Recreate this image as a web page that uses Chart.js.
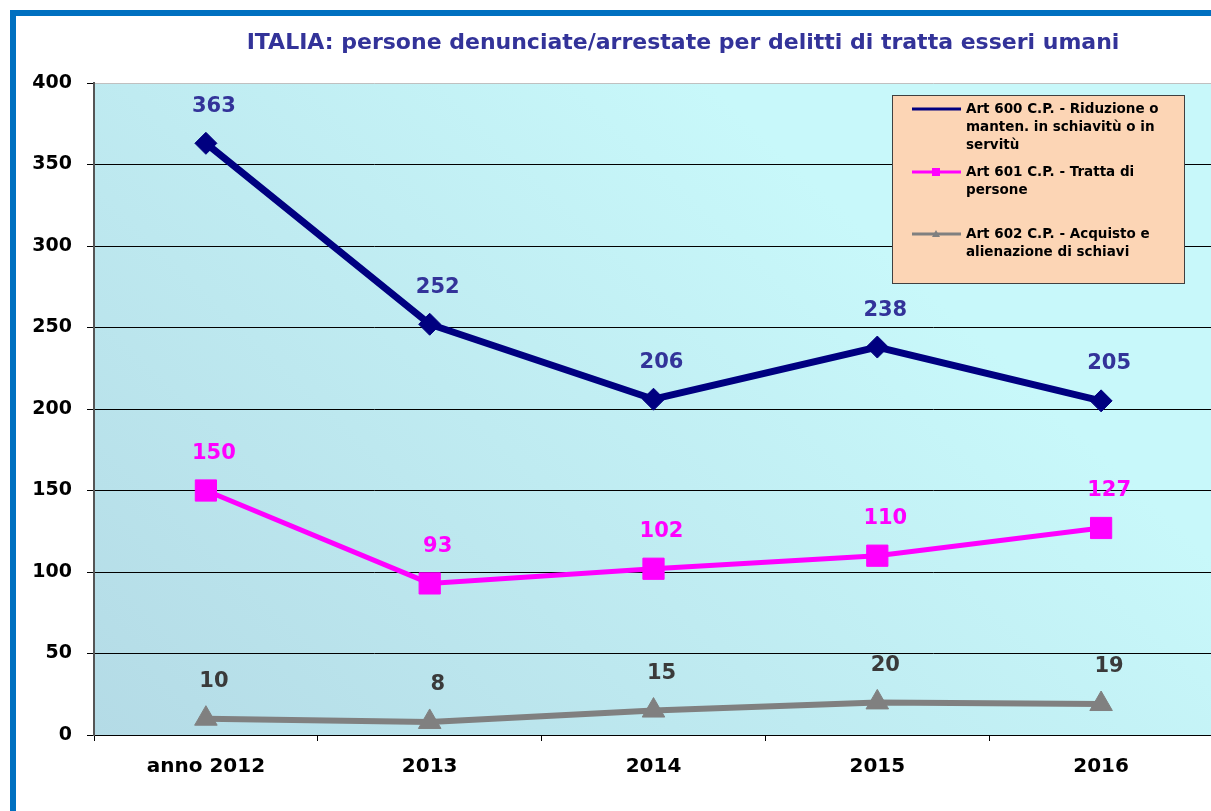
<!DOCTYPE html>
<html>
<head>
<meta charset="utf-8">
<script src="https://cdn.jsdelivr.net/npm/chart.js@4.4.1/dist/chart.umd.min.js"></script>
<style>
  html, body { margin: 0; padding: 0; background: #fff; overflow: hidden; width: 1211px; height: 811px; }
  #frame { position: absolute; left: 10px; top: 10px; width: 1400px; height: 1000px; border: 6px solid #0070C0; }
  #myChart { position: absolute; left: 0; top: 0; }
</style>
</head>
<body>
<div id="frame"></div>
<canvas id="myChart" width="1215" height="811"></canvas>
<script>
const years = ['anno 2012', '2013', '2014', '2015', '2016'];
const art600 = [363, 252, 206, 238, 205];
const art601 = [150, 93, 102, 110, 127];
const art602 = [10, 8, 15, 20, 19];
const seriesNames = [
    ['Art 600 C.P. - Riduzione o', 'manten. in schiavitù o in', 'servitù'],
    ['Art 601 C.P. - Tratta di', 'persone'],
    ['Art 602 C.P. - Acquisto e', 'alienazione di schiavi']
];
const titleText = 'ITALIA: persone denunciate/arrestate per delitti di tratta esseri umani';

// plot background gradient
const bgPlugin = {
    id: 'bg',
    beforeDraw(chart) {
        const { ctx, chartArea: a } = chart;
        const g = ctx.createLinearGradient(a.left, a.bottom, a.left + a.width * 0.55, a.top);
        g.addColorStop(0, '#B4DBE6');
        g.addColorStop(1, '#C8F8FA');
        ctx.save();
        ctx.fillStyle = g;
        ctx.fillRect(a.left, a.top, a.width, a.height);
        ctx.restore();
    }
};

// value labels above the points
const labelPlugin = {
    id: 'valueLabels',
    afterDatasetsDraw(chart) {
        const ctx = chart.ctx;
        ctx.save();
        ctx.font = 'bold 21px "DejaVu Sans"';
        ctx.textAlign = 'center';
        ctx.textBaseline = 'middle';
        chart.data.datasets.forEach((ds, i) => {
            ctx.fillStyle = ds.labelColor;
            chart.getDatasetMeta(i).data.forEach((pt, j) => {
                ctx.fillText(ds.data[j], pt.x + 8, pt.y - 37);
            });
        });
        ctx.restore();
    }
};

// title + boxed legend
const decorPlugin = {
    id: 'decor',
    afterDraw(chart) {
        const ctx = chart.ctx;
        ctx.save();
        ctx.font = 'bold 22px "DejaVu Sans"';
        ctx.fillStyle = '#333399';
        ctx.textAlign = 'center';
        ctx.textBaseline = 'middle';
        ctx.fillText(titleText, 683, 43);

        ctx.fillStyle = '#FCD5B5';
        ctx.fillRect(892, 95, 292, 188);
        ctx.strokeStyle = '#404040';
        ctx.lineWidth = 1;
        ctx.strokeRect(892.5, 95.5, 292, 188);

        const rows = [109, 172, 234];
        ctx.font = 'bold 13.5px "DejaVu Sans"';
        ctx.textAlign = 'left';
        chart.data.datasets.forEach((ds, i) => {
            const y = rows[i];
            ctx.strokeStyle = ds.borderColor;
            ctx.lineWidth = 3;
            ctx.beginPath();
            ctx.moveTo(912, y);
            ctx.lineTo(961, y);
            ctx.stroke();
            ctx.fillStyle = ds.borderColor;
            if (i === 1) ctx.fillRect(932, y - 4, 8, 8);
            if (i === 2) {
                ctx.beginPath();
                ctx.moveTo(936, y - 4); ctx.lineTo(940, y + 3); ctx.lineTo(932, y + 3);
                ctx.fill();
            }
            ctx.fillStyle = '#000';
            seriesNames[i].forEach((line, k) => {
                ctx.fillText(line, 966, y + k * 18);
            });
        });
        ctx.restore();
    }
};

const ctx = document.getElementById('myChart').getContext('2d');
const myChart = new Chart(ctx, {
    type: 'line',
    data: {
        labels: years,
        datasets: [{
            label: seriesNames[0].join(' '),
            data: art600,
            borderColor: '#000080',
            backgroundColor: '#000080',
            labelColor: '#333399',
            borderWidth: 7,
            pointStyle: 'rectRot',
            pointRadius: 11,
            pointBorderWidth: 1,
            tension: 0
        }, {
            label: seriesNames[1].join(' '),
            data: art601,
            borderColor: '#FF00FF',
            backgroundColor: '#FF00FF',
            labelColor: '#FF00FF',
            borderWidth: 5,
            pointStyle: 'rect',
            pointRadius: 15,
            pointBorderWidth: 1,
            tension: 0
        }, {
            label: seriesNames[2].join(' '),
            data: art602,
            borderColor: '#808080',
            backgroundColor: '#808080',
            labelColor: '#3a3a3a',
            borderWidth: 6,
            pointStyle: 'triangle',
            pointRadius: 13,
            pointBorderWidth: 1,
            tension: 0
        }]
    },
    options: {
        responsive: false,
        animation: false,
        layout: { autoPadding: false, padding: { top: 83, left: 0, right: 2, bottom: 0 } },
        plugins: {
            legend: { display: false },
            title: { display: false },
            tooltip: { enabled: false }
        },
        scales: {
            x: {
                offset: true,
                afterFit(scale) {
                    scale.height = 76;
                    scale.paddingLeft = 0;
                    scale.paddingRight = 0;
                },
                grid: {
                    offset: true,
                    drawOnChartArea: false,
                    tickLength: 6,
                    tickColor: '#000'
                },
                border: { color: '#000', width: 1 },
                ticks: {
                    color: '#000',
                    padding: 14,
                    font: { family: 'DejaVu Sans', size: 20, weight: 'bold' }
                }
            },
            y: {
                min: 0,
                max: 400,
                afterFit(scale) { scale.width = 94; },
                grid: {
                    color: (c) => c.tick && c.tick.value === 400 ? '#c0c0c0' : '#000',
                    lineWidth: 1,
                    tickLength: 7,
                    tickColor: '#000'
                },
                border: { color: '#555', width: 2 },
                ticks: {
                    stepSize: 50,
                    color: '#000',
                    padding: 15,
                    font: { family: 'DejaVu Sans', size: 19, weight: 'bold' }
                }
            }
        }
    },
    plugins: [bgPlugin, labelPlugin, decorPlugin]
});
</script>
</body>
</html>
